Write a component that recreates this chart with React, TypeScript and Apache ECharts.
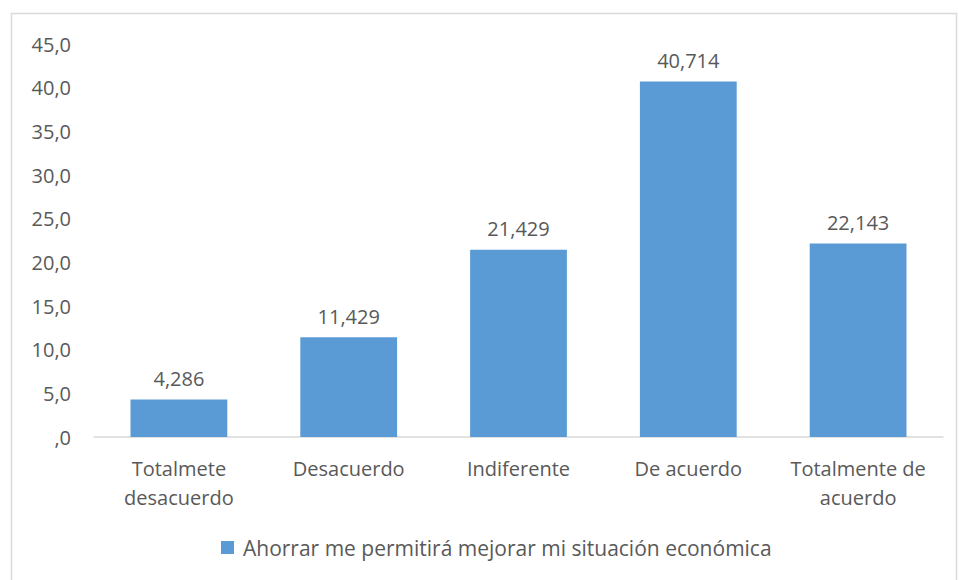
import React, { useEffect, useRef } from "react";
import * as echarts from "echarts";

const categories = ["Totalmete\ndesacuerdo", "Desacuerdo", "Indiferente", "De acuerdo", "Totalmente de\nacuerdo"];
const values = [4.286, 11.429, 21.429, 40.714, 22.143];
const seriesName = "Ahorrar me permitirá mejorar mi situación económica";

const FONT = "Open Sans";
const TEXT = "#595959";

export default function App() {
  const ref = useRef<HTMLDivElement>(null);
  useEffect(() => {
    document.body.style.margin = "0";
    const chart = echarts.init(ref.current!, null, { renderer: "svg" });
    chart.setOption({
      animation: false,
      backgroundColor: "#ffffff",
      textStyle: { fontFamily: FONT },
      graphic: [
        {
          type: "rect",
          shape: { x: 11.5, y: 13.5, width: 945, height: 620 },
          style: { fill: "none", stroke: "#D9D9D9", lineWidth: 1.5 },
          silent: true,
        },
      ],
      grid: { left: 94, right: 16, top: 44, bottom: 143 },
      legend: {
        bottom: 17,
        left: 216,
        itemWidth: 13,
        itemHeight: 13,
        itemGap: 6,
        icon: "rect",
        textStyle: { color: TEXT, fontSize: 21, fontFamily: FONT, padding: [0, 0, 0, 4] },
        data: [seriesName],
      },
      xAxis: {
        type: "category",
        data: categories,
        axisLine: { show: true, lineStyle: { color: "#D9D9D9", width: 1.5 } },
        axisTick: { show: false },
        axisLabel: { color: TEXT, fontSize: 20, fontFamily: FONT, margin: 17, lineHeight: 29, interval: 0 },
      },
      yAxis: {
        type: "value",
        min: 0,
        max: 45,
        interval: 5,
        axisLine: { show: false },
        axisTick: { show: false },
        splitLine: { show: false },
        axisLabel: {
          color: TEXT,
          fontSize: 20,
          fontFamily: FONT,
          margin: 23,
          formatter: (v: number) => (v === 0 ? ",0" : v.toFixed(1).replace(".", ",")),
        },
      },
      series: [
        {
          name: seriesName,
          type: "bar",
          data: values,
          barWidth: "57%",
          itemStyle: { color: "#5B9BD5" },
          label: {
            show: true,
            position: "top",
            distance: 11,
            color: TEXT,
            fontSize: 20,
            fontFamily: FONT,
            formatter: (p: any) => p.value.toFixed(3).replace(".", ","),
          },
        },
      ],
    });
    return () => chart.dispose();
  }, []);
  return <div ref={ref} style={{ width: 959, height: 580 }} />;
}
